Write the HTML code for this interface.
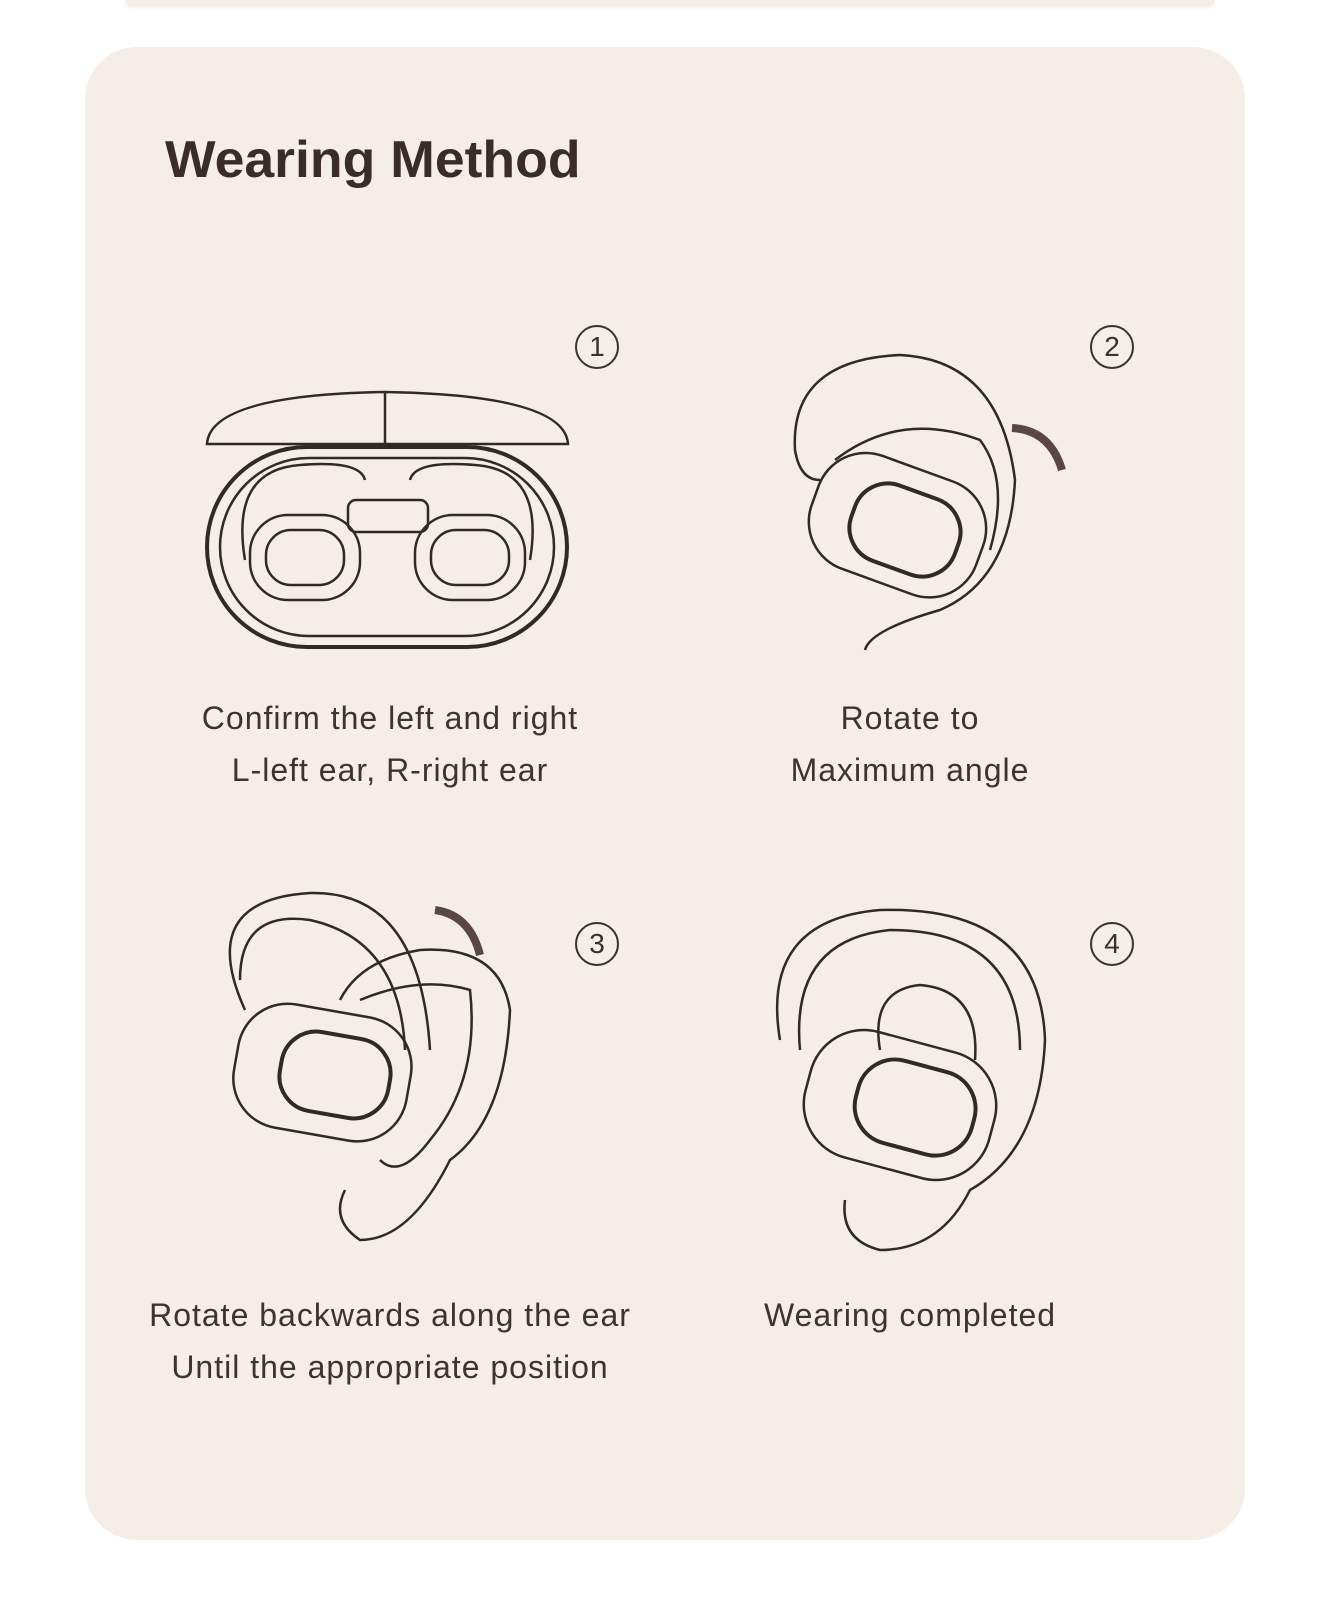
<!DOCTYPE html>
<html><head><meta charset="utf-8">
<style>
html,body{margin:0;padding:0;background:#fff;}
body{width:1338px;height:1600px;position:relative;overflow:hidden;font-family:"Liberation Sans",sans-serif;}
.topbar{position:absolute;left:125px;top:0;width:1090px;height:6px;background:#f3eeea;border-radius:0 0 6px 6px;box-shadow:0 2px 4px rgba(0,0,0,0.06);}
.card{position:absolute;left:85px;top:47px;width:1160px;height:1493px;background:#f5ede7;border-radius:52px;}
h1{position:absolute;left:165px;top:130px;margin:0;font-size:52px;font-weight:bold;color:#3a2d28;letter-spacing:0px;transform:scaleX(1.03);transform-origin:left;}
.cap{position:absolute;text-align:center;font-size:32px;line-height:52px;color:#3b3431;letter-spacing:1px;}
.num{position:absolute;width:40px;height:40px;border:2.5px solid #333;border-radius:50%;text-align:center;line-height:40px;font-size:28px;color:#333;}
svg{position:absolute;left:0;top:0;}
</style></head><body>
<div class="topbar"></div>
<div class="card"></div>
<h1>Wearing Method</h1>
<div class="num" style="left:575px;top:325px">1</div>
<div class="num" style="left:1090px;top:325px">2</div>
<div class="num" style="left:575px;top:922px">3</div>
<div class="num" style="left:1090px;top:922px">4</div>
<svg width="1338" height="1600" fill="none" stroke="#2e2a28" stroke-width="2.5">
 <path d="M207 444 Q210 395 385 392 Q565 395 568 444 Z"/>
 <line x1="385" y1="392" x2="385" y2="444"/>
 <rect x="207" y="447" width="360" height="200" rx="100" stroke-width="4"/>
 <rect x="220" y="458" width="334" height="178" rx="89"/>
 <rect x="348" y="500" width="80" height="32" rx="8"/>
 <rect x="250" y="515" width="110" height="85" rx="38"/>
 <rect x="266" y="530" width="78" height="55" rx="25"/>
 <rect x="415" y="515" width="110" height="85" rx="38"/>
 <rect x="431" y="530" width="78" height="55" rx="25"/>
 <path d="M245 560 Q230 470 300 465 Q360 460 365 480"/>
 <path d="M530 560 Q545 470 475 465 Q415 460 410 480"/>
 <path d="M865 650 Q870 630 940 610 Q1010 580 1015 480 Q1000 360 900 355 Q790 360 795 450 Q800 480 820 480"/>
 <path d="M835 460 Q900 410 980 440 Q1010 480 990 550"/>
 <rect x="810" y="465" width="175" height="120" rx="50" transform="rotate(20 897 525)"/>
 <rect x="850" y="490" width="110" height="80" rx="35" transform="rotate(20 905 530)" stroke-width="4"/>
 <path d="M1012 428 Q1050 430 1062 470" stroke="#5a4642" stroke-width="8"/>
 <path d="M245 1010 Q195 900 310 893 Q420 890 430 1050"/>
 <path d="M405 1050 Q400 940 310 920 Q240 910 240 980"/>
 <path d="M340 1000 Q360 960 420 950 Q500 945 510 1010 Q505 1120 450 1160 Q410 1240 360 1240 Q330 1220 345 1190"/>
 <path d="M360 1000 Q420 975 470 990 Q480 1080 430 1140 Q400 1180 380 1160"/>
 <rect x="235" y="1010" width="175" height="125" rx="50" transform="rotate(10 322 1072)"/>
 <rect x="280" y="1035" width="110" height="80" rx="35" transform="rotate(10 335 1075)" stroke-width="4"/>
 <path d="M435 910 Q470 915 480 955" stroke="#5a4642" stroke-width="8"/>
 <path d="M780 1040 Q760 920 880 910 Q1040 905 1045 1040 Q1040 1150 970 1190 Q940 1250 880 1250 Q840 1240 845 1200"/>
 <path d="M800 1050 Q790 940 890 930 Q1020 930 1020 1050"/>
 <path d="M880 1050 Q870 990 920 985 Q980 990 975 1060"/>
 <rect x="805" y="1040" width="190" height="130" rx="55" transform="rotate(15 900 1105)"/>
 <rect x="855" y="1065" width="120" height="85" rx="38" transform="rotate(15 915 1108)" stroke-width="4"/>
</svg>
<div class="cap" style="left:110px;top:692px;width:560px">Confirm the left and right<br>L-left ear, R-right ear</div>
<div class="cap" style="left:700px;top:692px;width:420px">Rotate to<br>Maximum angle</div>
<div class="cap" style="left:80px;top:1289px;width:620px">Rotate backwards along the ear<br>Until the appropriate position</div>
<div class="cap" style="left:700px;top:1289px;width:420px">Wearing completed</div>
</body></html>
